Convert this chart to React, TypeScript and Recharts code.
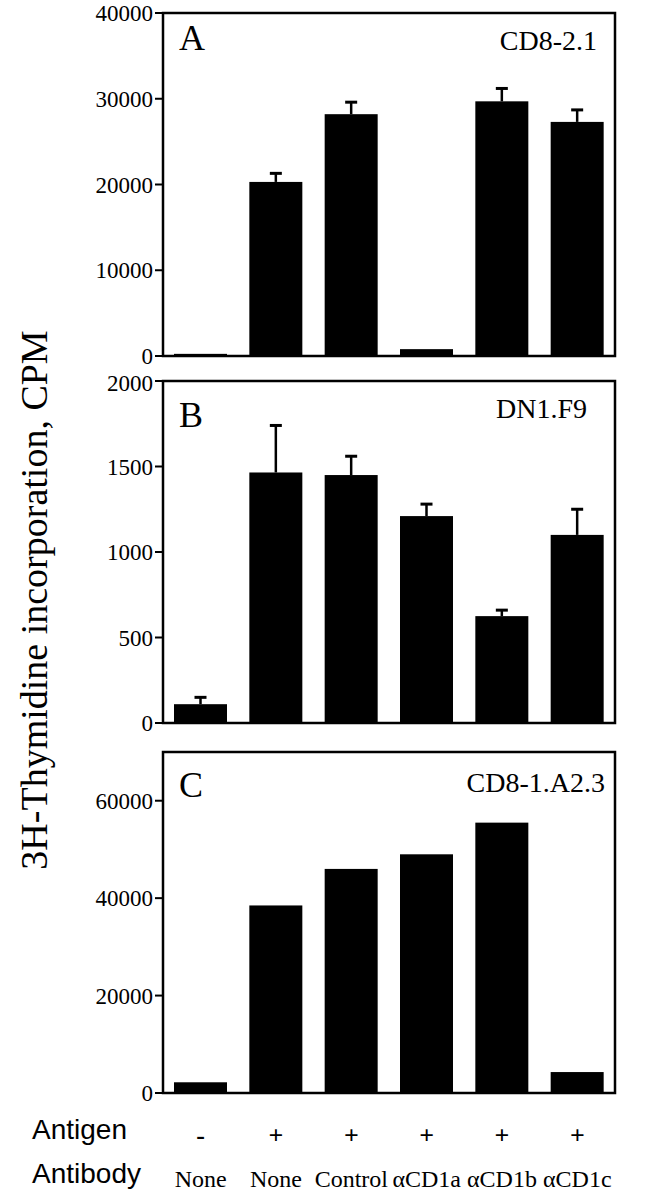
import React from "react";
import { Bar, BarChart, Label, ReferenceArea, XAxis, YAxis } from "recharts";

const ids = ["c1", "c2", "c3", "c4", "c5", "c6"];
const antigen = ["-", "+", "+", "+", "+", "+"];
const antibody = ["None", "None", "Control", "αCD1a", "αCD1b", "αCD1c"];

// panel A, CD8-2.1
const cpmA = [250, 20300, 28200, 800, 29700, 27300];
const errA = [null, 1000, 1400, null, 1500, 1400];
const ticksA = [0, 10000, 20000, 30000, 40000];

// panel B, DN1.F9
const cpmB = [110, 1465, 1450, 1210, 625, 1100];
const errB = [40, 275, 110, 70, 35, 150];
const ticksB = [0, 500, 1000, 1500, 2000];

// panel C, CD8-1.A2.3 (no error bars)
const cpmC = [2200, 38500, 46000, 49000, 55500, 4300];
const ticksC = [0, 20000, 40000, 60000];

const SERIF = "'Liberation Serif', 'Times New Roman', serif";
const SANS = "'Liberation Sans', Arial, sans-serif";
const W = 652;

type Row = { id: string; cpm: number; err: number | null };

function rows(values: number[], errs?: (number | null)[]): Row[] {
  return ids.map((id, i) => ({ id, cpm: values[i], err: errs ? errs[i] : null }));
}

// bar plus an upward-only error whisker (T shape), scaled from the bar's own pixel height
function BarWithError(props: any) {
  const { x, y, width, height, payload } = props;
  const err = payload?.err;
  const cx = x + width / 2;
  let whisker = null;
  if (err != null && payload.cpm > 0 && height > 0) {
    const top = y - (err * height) / payload.cpm;
    whisker = (
      <g stroke="#000" strokeWidth={2.5}>
        <line x1={cx} x2={cx} y1={y} y2={top} />
        <line x1={cx - 6} x2={cx + 6} y1={top} y2={top} strokeWidth={3} />
      </g>
    );
  }
  return (
    <g>
      <rect x={x} y={y} width={width} height={height} fill="#000" />
      {whisker}
    </g>
  );
}

function PanelTitle(props: any) {
  const { viewBox, letter, clone, letterDy, cloneDy, cloneRight } = props;
  const { x, y, width } = viewBox;
  return (
    <g>
      <text x={x + 16} y={y + letterDy} fontFamily={SERIF} fontSize={36} fill="#000">
        {letter}
      </text>
      <text
        x={x + width - cloneRight}
        y={y + cloneDy}
        textAnchor="end"
        fontFamily={SERIF}
        fontSize={28}
        fill="#000"
      >
        {clone}
      </text>
    </g>
  );
}

function ConditionTick(props: any) {
  const { x, y, payload } = props;
  const i = payload.index;
  return (
    <g>
      <text x={x} y={y + 43} textAnchor="middle" fontFamily={SERIF} fontSize={26} fontWeight="bold" fill="#000">
        {antigen[i]}
      </text>
      <text x={x} y={y + 86} textAnchor="middle" fontFamily={SERIF} fontSize={24} fill="#000">
        {antibody[i]}
      </text>
    </g>
  );
}

interface PanelProps {
  top: number;
  height: number;
  margin: { top: number; right: number; bottom: number; left: number };
  data: Row[];
  max: number;
  ticks: number[];
  letter: string;
  clone: string;
  letterDy: number;
  cloneDy: number;
  cloneRight: number;
  showConditions?: boolean;
}

function Panel(p: PanelProps) {
  return (
    <div style={{ position: "absolute", left: 0, top: p.top }}>
      <BarChart width={W} height={p.height} data={p.data} margin={p.margin} barSize={53}>
        <XAxis
          dataKey="id"
          hide={!p.showConditions}
          height={107}
          axisLine={false}
          tickLine={false}
          interval={0}
          tick={<ConditionTick />}
        />
        <YAxis
          domain={[0, p.max]}
          ticks={p.ticks}
          width={163}
          axisLine={false}
          tickSize={8}
          tickMargin={2}
          tickLine={{ stroke: "#000", strokeWidth: 2 }}
          tick={{ fill: "#000", fontFamily: SERIF, fontSize: 23 }}
          allowDataOverflow
        />
        <Bar dataKey="cpm" fill="#000" isAnimationActive={false} shape={<BarWithError />} />
        <ReferenceArea y1={0} y2={p.max} fill="none" stroke="#000" strokeWidth={2.5} ifOverflow="visible">
          <Label
            content={
              <PanelTitle
                letter={p.letter}
                clone={p.clone}
                letterDy={p.letterDy}
                cloneDy={p.cloneDy}
                cloneRight={p.cloneRight}
              />
            }
          />
        </ReferenceArea>
      </BarChart>
    </div>
  );
}

export default function App() {
  return (
    <div style={{ position: "absolute", left: 0, top: 0, width: W, height: 1200, background: "#fff" }}>
      <Panel
        top={0}
        height={380}
        margin={{ top: 13, right: 37, bottom: 24, left: 0 }}
        data={rows(cpmA, errA)}
        max={40000}
        ticks={ticksA}
        letter="A"
        clone="CD8-2.1"
        letterDy={37}
        cloneDy={37}
        cloneRight={18}
      />
      <Panel
        top={370}
        height={370}
        margin={{ top: 11, right: 37, bottom: 17, left: 0 }}
        data={rows(cpmB, errB)}
        max={2000}
        ticks={ticksB}
        letter="B"
        clone="DN1.F9"
        letterDy={46}
        cloneDy={37}
        cloneRight={28}
      />
      <Panel
        top={740}
        height={460}
        margin={{ top: 12, right: 37, bottom: 0, left: 0 }}
        data={rows(cpmC)}
        max={70000}
        ticks={ticksC}
        letter="C"
        clone="CD8-1.A2.3"
        letterDy={45}
        cloneDy={40}
        cloneRight={10}
        showConditions
      />
      <svg width={W} height={1200} style={{ position: "absolute", left: 0, top: 0, pointerEvents: "none" }}>
        <text
          x={47}
          y={600}
          transform="rotate(-90, 47, 600)"
          textAnchor="middle"
          fontFamily={SERIF}
          fontSize={38}
          fill="#000"
        >
          3H-Thymidine incorporation, CPM
        </text>
        <text x={32} y={1139} fontFamily={SANS} fontSize={28} fill="#000">
          Antigen
        </text>
        <text x={32} y={1183} fontFamily={SANS} fontSize={28} fill="#000">
          Antibody
        </text>
      </svg>
    </div>
  );
}
